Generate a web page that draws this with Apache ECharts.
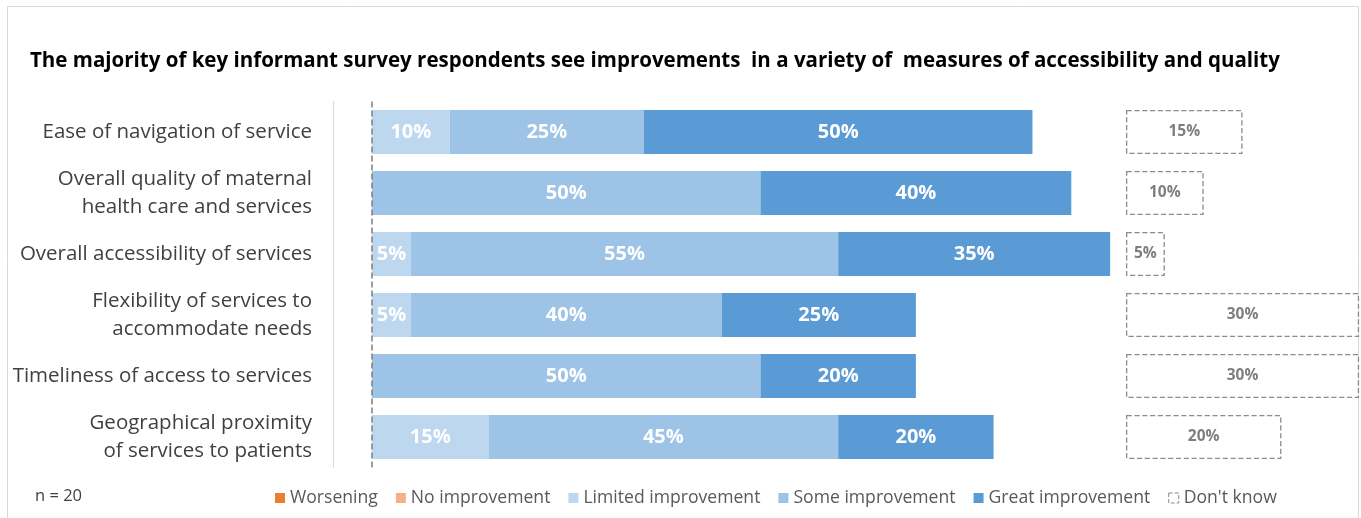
<!DOCTYPE html>
<html><head><meta charset="utf-8">
<script src="https://cdn.jsdelivr.net/npm/echarts@6/dist/echarts.min.js"></script>
<style>html,body{margin:0;padding:0;background:#fff}#c{width:1361px;height:518px}</style>
</head><body><div id="c"></div>
<script>
const categories = [
  'Ease of navigation of service',
  'Overall quality of maternal\nhealth care and services',
  'Overall accessibility of services',
  'Flexibility of services to\naccommodate needs',
  'Timeliness of access to services',
  'Geographical proximity\nof services to patients'
];
const worsening = [0, 0, 0, 0, 0, 0];
const noImprovement = [0, 0, 0, 0, 0, 0];
const limitedImprovement = [10, 0, 5, 5, 0, 15];
const someImprovement = [25, 50, 55, 40, 50, 45];
const greatImprovement = [50, 40, 35, 25, 20, 20];
const dontKnow = [15, 10, 5, 30, 30, 20];
const seriesNames = ['Worsening', 'No improvement', 'Limited improvement', 'Some improvement', 'Great improvement', "Don't know"];

const FONT = 'Open Sans';
const colors = ['#ED7D31', '#F4B183', '#BDD7EE', '#9DC3E6', '#5B9BD5'];
const fmt = p => (p.value ? p.value + '%' : '');

function stackSeries(name, data, color, extra) {
  return Object.assign({
    name, type: 'bar', stack: 'total', data, barWidth: 44,
    xAxisIndex: 0, yAxisIndex: 0,
    itemStyle: { color },
    label: { show: true, position: 'inside', formatter: fmt, color: '#fff', fontSize: 20, fontWeight: 'bold', fontFamily: FONT },
    emphasis: { disabled: true }
  }, extra || {});
}

const chart = echarts.init(document.getElementById('c'), null, { renderer: 'canvas' });
chart.setOption({
  animation: false,
  title: {
    text: 'The majority of key informant survey respondents see improvements  in a variety of  measures of accessibility and quality',
    left: 30, top: 51, padding: 0,
    textStyle: { fontSize: 20.5, fontWeight: 'bold', color: '#000', fontFamily: FONT }
  },
  grid: [
    { left: 372, top: 101.5, width: 777, height: 366, containLabel: false, outerBoundsMode: 'none' },
    { left: 1126, top: 101.5, width: 777, height: 366, containLabel: false, outerBoundsMode: 'none' }
  ],
  xAxis: [
    { type: 'value', gridIndex: 0, min: 0, max: 100, show: false },
    { type: 'value', gridIndex: 1, min: 0, max: 100, show: false }
  ],
  yAxis: [
    {
      type: 'category', gridIndex: 0, data: categories, inverse: true, offset: 39,
      axisLine: { show: true, onZero: false, lineStyle: { color: '#D9D9D9', width: 1 } },
      axisTick: { show: false },
      axisLabel: { margin: 21, fontSize: 20.5, color: '#404040', lineHeight: 28.5, fontFamily: FONT, align: 'right' }
    },
    { type: 'category', gridIndex: 1, data: categories, inverse: true, show: false }
  ],
  legend: {
    data: seriesNames.map(n => n === "Don't know"
      ? { name: n, itemStyle: { color: '#fff', borderColor: '#8C8C8C', borderType: 'dashed', borderWidth: 1 } }
      : { name: n }),
    left: 270, top: 484, icon: 'rect', itemWidth: 10, itemHeight: 10, itemGap: 18,
    selectedMode: false,
    textStyle: { fontSize: 17.6, color: '#595959', fontFamily: FONT }
  },
  graphic: [
    { type: 'rect', shape: { x: 7.5, y: 6.5, width: 1351, height: 540 }, style: { fill: 'none', stroke: '#D9D9D9', lineWidth: 1 }, silent: true },
    { type: 'text', left: 35, top: 488, style: { text: 'n = 20', fontSize: 16.5, fill: '#404040', fontFamily: FONT } }
  ],
  series: [
    stackSeries(seriesNames[0], worsening, colors[0]),
    stackSeries(seriesNames[1], noImprovement, colors[1]),
    stackSeries(seriesNames[2], limitedImprovement, colors[2], {
      markLine: {
        silent: true, symbol: 'none', label: { show: false },
        lineStyle: { type: 'dashed', color: '#7F7F7F', width: 1.5 },
        data: [{ xAxis: 0 }]
      }
    }),
    stackSeries(seriesNames[3], someImprovement, colors[3]),
    stackSeries(seriesNames[4], greatImprovement, colors[4]),
    {
      name: seriesNames[5], type: 'bar', data: dontKnow, barWidth: 44,
      xAxisIndex: 1, yAxisIndex: 1,
      itemStyle: { color: '#fff', borderColor: '#8C8C8C', borderType: 'dashed', borderWidth: 1.3 },
      label: { show: true, position: 'inside', formatter: fmt, color: '#7F7F7F', fontSize: 15.5, fontWeight: 'bold', fontFamily: FONT },
      emphasis: { disabled: true }
    }
  ]
});
</script></body></html>
